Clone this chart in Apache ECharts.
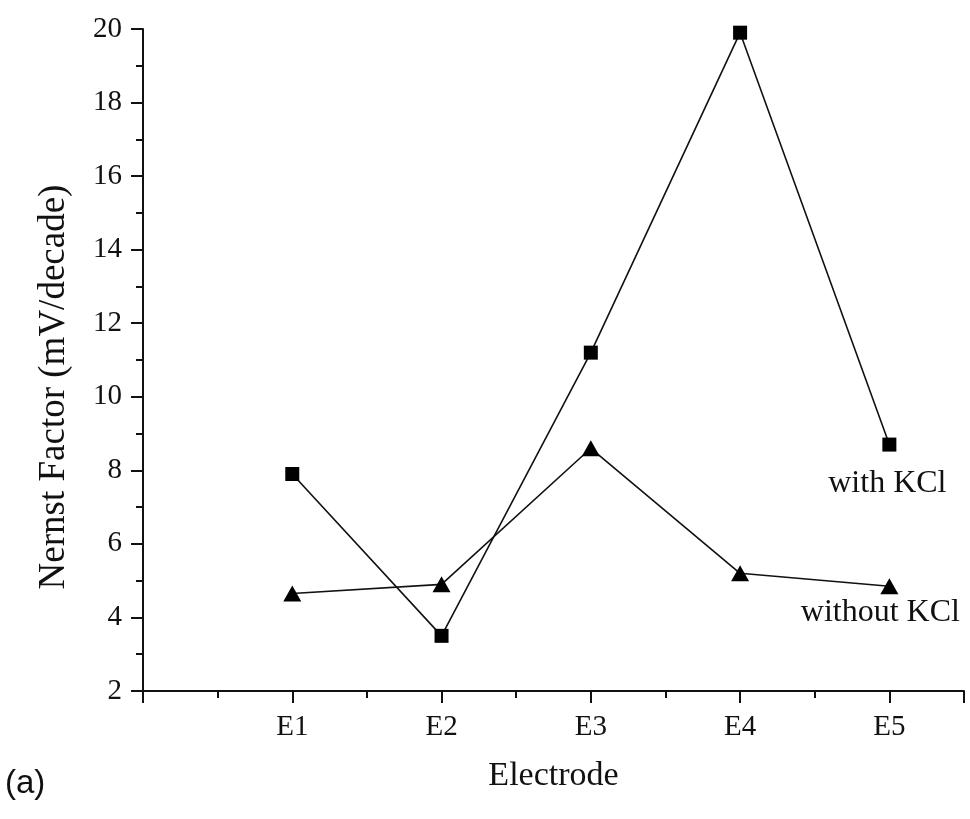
<!DOCTYPE html>
<html>
<head>
<meta charset="utf-8">
<script src="https://cdn.jsdelivr.net/npm/echarts@6/dist/echarts.min.js"></script>
<style>html,body{margin:0;padding:0;background:#fff}#c{width:970px;height:819px}</style>
</head>
<body>
<div id="c"></div>
<script>
const categories = ['E1', 'E2', 'E3', 'E4', 'E5'];
const withKCl = [7.9, 3.5, 11.2, 19.9, 8.7];
const withoutKCl = [4.65, 4.9, 8.6, 5.2, 4.85];
const seriesNames = ['with KCl', 'without KCl'];
const yTicks = [2, 4, 6, 8, 10, 12, 14, 16, 18, 20];

const serif = 'Liberation Serif, Times New Roman, serif';
const ink = '#111';

function toData(vals, name, labelCfg) {
  return vals.map((v, i) => {
    const d = { value: [i + 1, v] };
    if (i === vals.length - 1) {
      d.label = Object.assign({ show: true, formatter: name, color: ink, fontFamily: serif, fontSize: 32 }, labelCfg);
    }
    return d;
  });
}

const chart = echarts.init(document.getElementById('c'), null, { renderer: 'canvas' });
chart.setOption({
  animation: false,
  backgroundColor: '#fff',
  grid: { left: 143, right: 6, top: 29, bottom: 128, containLabel: false },
  xAxis: {
    type: 'value', min: 0, max: 5.5, interval: 1,
    name: 'Electrode', nameLocation: 'middle', nameGap: 68,
    nameTextStyle: { fontFamily: serif, fontSize: 34, color: ink },
    axisLine: { show: true, onZero: false, lineStyle: { color: ink, width: 2 } },
    axisTick: { show: true, length: 12, lineStyle: { color: ink, width: 2 } },
    minorTick: { show: true, splitNumber: 2, length: 7, lineStyle: { color: ink, width: 2 } },
    splitLine: { show: false },
    axisLabel: {
      margin: 22, fontFamily: serif, fontSize: 29, color: ink,
      formatter: v => (Number.isInteger(v) && v >= 1 && v <= categories.length) ? categories[v - 1] : ''
    }
  },
  yAxis: {
    type: 'value', min: yTicks[0], max: yTicks[yTicks.length - 1], interval: 2,
    name: 'Nernst Factor (mV/decade)', nameLocation: 'middle', nameGap: 70,
    nameTextStyle: { fontFamily: serif, fontSize: 37, color: ink, padding: [0, 54, 0, 0] },
    axisLine: { show: true, lineStyle: { color: ink, width: 2 } },
    axisTick: { show: true, length: 12, lineStyle: { color: ink, width: 2 } },
    minorTick: { show: true, splitNumber: 2, length: 7, lineStyle: { color: ink, width: 2 } },
    splitLine: { show: false },
    axisLabel: { margin: 21, fontFamily: serif, fontSize: 29, color: ink }
  },
  graphic: [{
    type: 'text', left: 5, top: 767,
    style: { text: '(a)', font: '33px "Liberation Sans", Arial, sans-serif', fill: ink }
  }],
  series: [
    {
      name: seriesNames[0], type: 'line',
      data: toData(withKCl, seriesNames[0], { position: 'bottom', distance: 16, offset: [-2, 0] }),
      symbol: 'rect', symbolSize: 14, showAllSymbol: true,
      itemStyle: { color: '#000' }, lineStyle: { color: ink, width: 1.6 }
    },
    {
      name: seriesNames[1], type: 'line',
      data: toData(withoutKCl, seriesNames[1], { position: 'bottom', distance: 2, offset: [-9, 0] }),
      symbol: 'triangle', symbolSize: [18, 16], showAllSymbol: true,
      itemStyle: { color: '#000' }, lineStyle: { color: ink, width: 1.6 }
    }
  ]
});
</script>
</body>
</html>
